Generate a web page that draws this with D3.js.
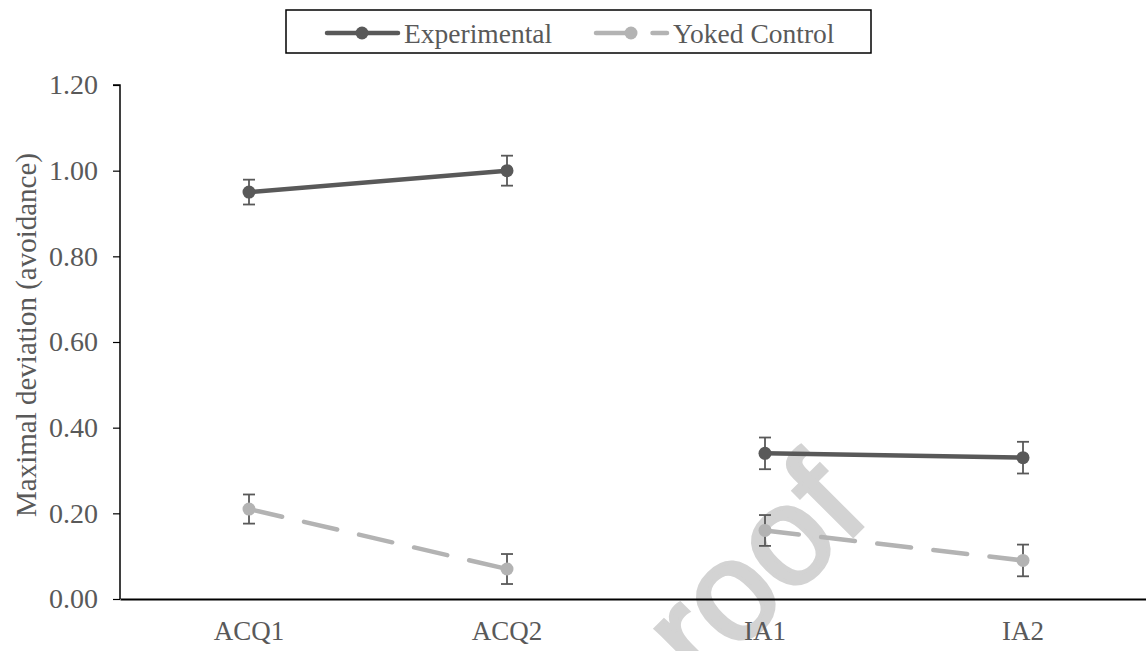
<!DOCTYPE html>
<html>
<head>
<meta charset="utf-8">
<script src="https://cdn.jsdelivr.net/npm/d3@7"></script>
<style>
  body { margin: 0; background: #fff; }
  text { font-family: "Liberation Serif", "Times New Roman", serif; }
</style>
</head>
<body>
<div id="chart"></div>
<script>
// data
var categories = ["ACQ1", "ACQ2", "IA1", "IA2"];
var phases = [["ACQ1", "ACQ2"], ["IA1", "IA2"]];
var experimental = [0.95, 1.00, 0.34, 0.33];
var experimentalErr = [0.029, 0.035, 0.037, 0.037];
var yoked = [0.21, 0.07, 0.16, 0.09];
var yokedErr = [0.034, 0.035, 0.036, 0.037];
var yTicks = [0, 0.2, 0.4, 0.6, 0.8, 1.0, 1.2];

var width = 1146, height = 651;
var dark = "#595959", light = "#b3b3b3";

var svg = d3.select("#chart").append("svg")
    .attr("width", width)
    .attr("height", height);

// watermark (sits behind everything), only the visible part
svg.append("text")
    .attr("transform", "translate(872,517) rotate(-45)")
    .attr("text-anchor", "end")
    .style("font-family", "'Liberation Sans', Arial, sans-serif")
    .style("font-size", "140px")
    .attr("fill", "#d3d3d3")
    .attr("stroke", "#d3d3d3")
    .attr("stroke-width", 4)
    .text("roof");

var x = d3.scaleBand().domain(categories).range([120, 1152]).padding(0);
var y = d3.scaleLinear().domain([0, 1.2]).range([599, 85]);
var cx = function(c) { return x(c) + x.bandwidth() / 2; };

// y axis
var yAxis = svg.append("g")
    .attr("transform", "translate(120,0)")
    .call(d3.axisLeft(y).tickValues(yTicks).tickSize(7).tickPadding(15)
        .tickFormat(d3.format(".2f")));
yAxis.select(".domain").attr("stroke", "#000").attr("stroke-width", 1.5)
    .attr("d", "M-7," + y(1.2) + "H0V" + y(0));
yAxis.selectAll(".tick line").attr("stroke", "#000").attr("stroke-width", 1.2);
yAxis.selectAll(".tick text")
    .attr("fill", dark)
    .style("font-size", "28px")
    .style("font-family", "'Liberation Serif', 'Times New Roman', serif");

// x axis
var xAxis = svg.append("g")
    .attr("transform", "translate(0," + y(0) + ")")
    .call(d3.axisBottom(x).tickSize(0).tickPadding(22));
xAxis.select(".domain").attr("stroke", "#000").attr("stroke-width", 2);
xAxis.selectAll(".tick text")
    .attr("fill", dark)
    .style("font-size", "27px")
    .style("font-family", "'Liberation Serif', 'Times New Roman', serif");

// axis title
svg.append("text")
    .attr("transform", "translate(36," + ((y(0) + y(1.2)) / 2 - 7) + ") rotate(-90)")
    .attr("text-anchor", "middle")
    .attr("fill", dark)
    .style("font-size", "29px")
    .text("Maximal deviation (avoidance)");

var series = [
    { name: "Experimental", values: experimental, err: experimentalErr, color: dark, dash: null },
    { name: "Yoked Control", values: yoked, err: yokedErr, color: light, dash: "34,22.5" }
];

var line = d3.line()
    .x(function(d) { return cx(d.c); })
    .y(function(d) { return y(d.v); });

series.forEach(function(s) {
    var pts = categories.map(function(c, i) { return { c: c, v: s.values[i], e: s.err[i] }; });

    phases.forEach(function(ph) {
        var seg = pts.filter(function(p) { return ph.indexOf(p.c) >= 0; });
        svg.append("path")
            .datum(seg)
            .attr("d", line)
            .attr("fill", "none")
            .attr("stroke", s.color)
            .attr("stroke-width", 4.5)
            .attr("stroke-linecap", "round")
            .attr("stroke-dasharray", s.dash);
    });

    var eb = svg.append("g").selectAll("g").data(pts).enter().append("g")
        .attr("stroke", dark).attr("stroke-width", 1.8);
    eb.append("line")
        .attr("x1", function(d) { return cx(d.c); })
        .attr("x2", function(d) { return cx(d.c); })
        .attr("y1", function(d) { return y(d.v + d.e); })
        .attr("y2", function(d) { return y(d.v - d.e); });
    eb.append("line")
        .attr("x1", function(d) { return cx(d.c) - 6; })
        .attr("x2", function(d) { return cx(d.c) + 6; })
        .attr("y1", function(d) { return y(d.v + d.e); })
        .attr("y2", function(d) { return y(d.v + d.e); });
    eb.append("line")
        .attr("x1", function(d) { return cx(d.c) - 6; })
        .attr("x2", function(d) { return cx(d.c) + 6; })
        .attr("y1", function(d) { return y(d.v - d.e); })
        .attr("y2", function(d) { return y(d.v - d.e); });

    svg.append("g").selectAll("circle").data(pts).enter().append("circle")
        .attr("cx", function(d) { return cx(d.c); })
        .attr("cy", function(d) { return y(d.v); })
        .attr("r", 6.5)
        .attr("fill", s.color);
});

// legend
var legend = svg.append("g");
legend.append("rect")
    .attr("x", 286).attr("y", 10)
    .attr("width", 585).attr("height", 43)
    .attr("fill", "#fff")
    .attr("stroke", "#000")
    .attr("stroke-width", 1.5);

var legendX = [327, 596];
series.forEach(function(s, i) {
    var g = legend.append("g").attr("transform", "translate(" + legendX[i] + ",33)");
    g.append("line")
        .attr("x1", 0).attr("x2", 71)
        .attr("stroke", s.color)
        .attr("stroke-width", 4.5)
        .attr("stroke-linecap", "round")
        .attr("stroke-dasharray", s.dash);
    g.append("circle").attr("cx", 35).attr("r", 6.5).attr("fill", s.color);
    g.append("text")
        .attr("x", 77)
        .attr("dy", "0.35em")
        .attr("fill", dark)
        .style("font-size", "27.5px")
        .text(s.name);
});
</script>
</body>
</html>
